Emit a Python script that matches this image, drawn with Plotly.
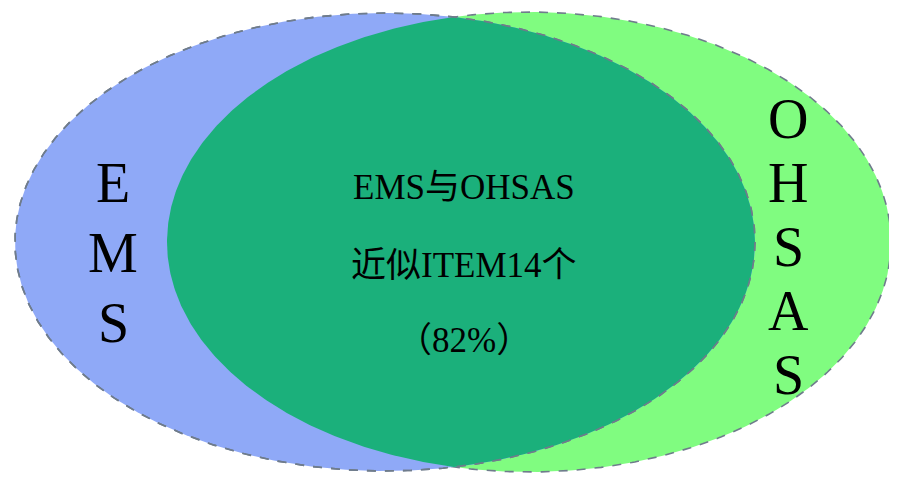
import numpy as np
import plotly.graph_objects as go

# Venn sets: name, centre x, centre y, radius x, radius y (pixel space)
set_names = ["EMS", "OHSAS"]
set_cx = [385, 529]
set_cy = [242, 242]
set_rx = [370, 362]
set_ry = [229, 230]
set_fill = ["#8FA9F7", "#80FC80"]
overlap_fill = "#1BB07B"
border_color = "#6F7C8C"

center_lines = ["EMS与OHSAS", "近似ITEM14个", "（82%）"]
center_y = [187, 265, 340]
center_x = 464

ems_letters = ["E", "M", "S"]
ems_y = [183, 253, 323]
ems_x = 113
ohsas_letters = ["O", "H", "S", "A", "S"]
ohsas_y = [119, 183, 247, 311, 375]
ohsas_x = 788

t = np.linspace(0, 2 * np.pi, 721)


def ellipse(i):
    return set_cx[i] + set_rx[i] * np.cos(t), set_cy[i] + set_ry[i] * np.sin(t)


def inside(i, x, y):
    return ((x - set_cx[i]) / set_rx[i]) ** 2 + ((y - set_cy[i]) / set_ry[i]) ** 2 <= 1.0


fig = go.Figure()

# green ellipse (OHSAS), then blue (EMS)
for i in [1, 0]:
    x, y = ellipse(i)
    fig.add_trace(go.Scatter(x=x, y=y, mode="lines", fill="toself",
                             fillcolor=set_fill[i],
                             line=dict(color=border_color, width=1.6, dash="dash"),
                             hoverinfo="skip", showlegend=False))

# overlap region: blue arc inside green + green arc inside blue
bx, by = ellipse(0)
gx, gy = ellipse(1)
mb = inside(1, bx, by)
mg = inside(0, gx, gy)
px = np.concatenate([bx[mb], gx[mg]])
py = np.concatenate([by[mb], gy[mg]])
cxm, cym = px.mean(), py.mean()
order = np.argsort(np.arctan2(py - cym, px - cxm))
px, py = px[order], py[order]
px = np.append(px, px[0])
py = np.append(py, py[0])
fig.add_trace(go.Scatter(x=px, y=py, mode="lines", fill="toself",
                         fillcolor=overlap_fill, line=dict(width=0, color=overlap_fill),
                         hoverinfo="skip", showlegend=False))

# blue outline again on top
fig.add_trace(go.Scatter(x=bx, y=by, mode="lines",
                         line=dict(color=border_color, width=1.6, dash="dash"),
                         hoverinfo="skip", showlegend=False))

font_c = dict(family="Liberation Serif, Noto Sans CJK SC, serif", size=35, color="black")
font_s = dict(family="Liberation Serif, serif", size=56, color="black")

for txt, yy in zip(center_lines, center_y):
    fig.add_annotation(x=center_x, y=yy, text=txt, showarrow=False, font=font_c,
                       xanchor="center", yanchor="middle")
for txt, yy in zip(ems_letters, ems_y):
    fig.add_annotation(x=ems_x, y=yy, text=txt, showarrow=False, font=font_s,
                       xanchor="center", yanchor="middle")
for txt, yy in zip(ohsas_letters, ohsas_y):
    fig.add_annotation(x=ohsas_x, y=yy, text=txt, showarrow=False, font=font_s,
                       xanchor="center", yanchor="middle")

# the page body has an 8px margin; offset the ranges so data units equal page pixels
fig.update_layout(
    width=897, height=477,
    margin=dict(l=0, r=0, t=0, b=0),
    paper_bgcolor="white", plot_bgcolor="white",
    xaxis=dict(range=[8, 905], visible=False, fixedrange=True),
    yaxis=dict(range=[485, 8], visible=False, fixedrange=True),
    showlegend=False,
)

fig.write_html("out.html")
